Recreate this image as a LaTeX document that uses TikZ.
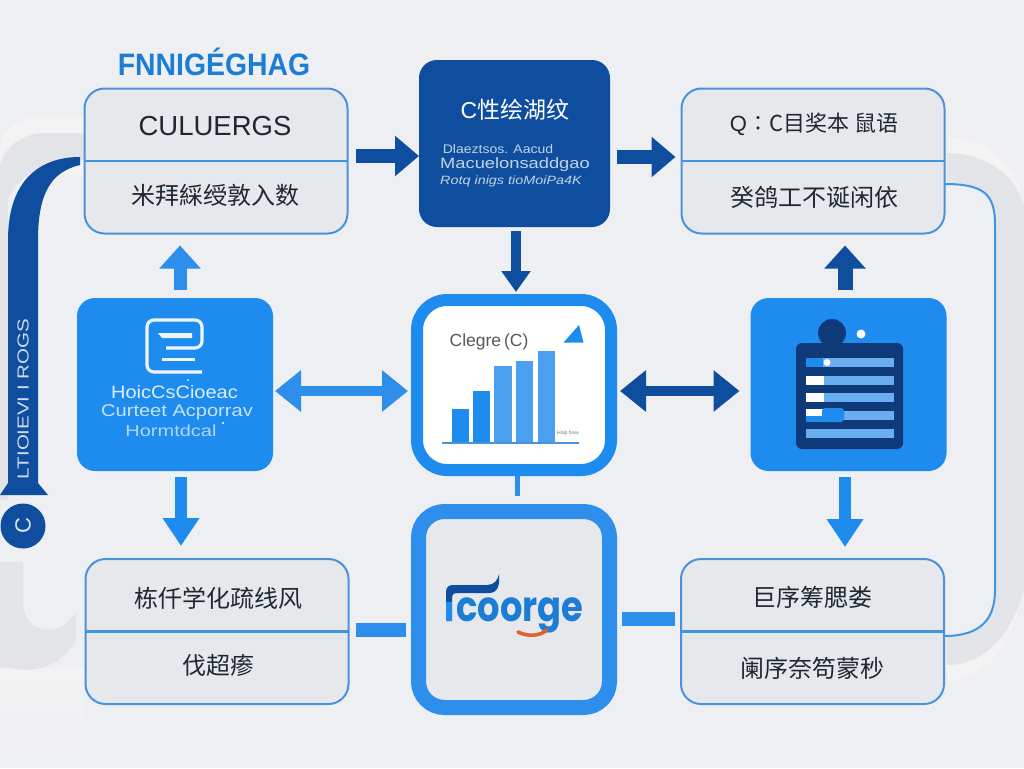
\documentclass[tikz,border=0pt]{standalone}
\usepackage{fontspec}
\setmainfont{Liberation Sans}
\newfontfamily\cjk{Noto Sans CJK SC}
\newfontfamily\logofont{Poppins}
\usetikzlibrary{arrows.meta,calc}
\definecolor{bgc}{HTML}{EEEFF2}
\definecolor{bandc}{HTML}{E3E4E8}
\definecolor{haloc}{HTML}{F3F3F4}
\definecolor{boxc}{HTML}{E7E8EB}
\definecolor{linec}{HTML}{4A93DC}
\definecolor{dividerc}{HTML}{3D97E6}
\definecolor{darkc}{HTML}{0F4E9F}
\definecolor{bluec}{HTML}{1E8BEE}
\definecolor{midc}{HTML}{2D8EEC}
\definecolor{barlight}{HTML}{4A9FEF}
\definecolor{navyc}{HTML}{0E3A7A}
\definecolor{rowc}{HTML}{69AEEE}
\definecolor{inkc}{HTML}{1E2833}
\definecolor{orangec}{HTML}{E0602A}
\newcommand{\fsz}[1]{\fontsize{#1}{#1}\selectfont}
\tikzset{
  x=1pt,y=-1pt,
  every node/.style={inner sep=0pt,outer sep=0pt},
  splitbox/.style={draw=linec,line width=2pt,fill=boxc,rounded corners=20pt,minimum width=263pt,minimum height=145pt},
  dividerline/.style={draw=dividerc,line width=2.6pt},
  solidbox/.style={rounded corners=18pt,minimum width=196pt,minimum height=173pt},
  inktext/.style={text=inkc},
  blockdark/.style={draw=darkc,line width=14pt,-{Triangle[length=24pt,width=39pt,color=darkc]}},
  blockup/.style={draw=#1,line width=13pt,-{Triangle[length=23pt,width=40pt,color=#1]}},
  blockdown/.style={draw=#1,line width=12pt,-{Triangle[length=28pt,width=35pt,color=#1]}},
  blockboth/.style={draw=#1,line width=10pt,{Triangle[length=26pt,width=40pt,color=#1]}-{Triangle[length=26pt,width=40pt,color=#1]}},
  stubline/.style={draw=midc,line width=14pt},
}
\begin{document}
\begin{tikzpicture}
\useasboundingbox (0,0) rectangle (1024,768);
\fill[bgc] (0,0) rectangle (1024,768);
% lighter lower area and soft bands
\shade[top color=haloc,bottom color=bgc] (0,668) rectangle (84,745);
\fill[haloc] (947,137) .. controls (990,137) and (1024,170) .. (1024,215) -- (1024,590) .. controls (1010,650) and (985,680) .. (947,680) -- cycle;
\fill[bgc] (947,184) -- (995,184) -- (995,636) -- (947,636) -- cycle;
\fill[haloc] (84,117) -- (40,117) .. controls (20,117) and (0,130) .. (0,150) -- (0,175) -- (84,175) -- cycle;
% grey bands
\fill[bandc] (84,133) -- (45,133) .. controls (25,133) and (5,145) .. (0,165) -- (0,500) -- (8,500) -- (8,200) .. controls (20,170) and (50,160) .. (84,160) -- cycle;
\fill[bandc] (947,153) .. controls (985,153) and (1015,175) .. (1024,205) -- (1024,590) .. controls (1010,640) and (980,665) .. (947,665) -- (947,636) .. controls (975,636) and (995,620) .. (995,590) -- (995,225) .. controls (995,195) and (985,184) .. (947,184) -- cycle;
\fill[bandc] (0,562) -- (23,562) -- (23,600) .. controls (23,620) and (35,630) .. (48,630) .. controls (60,630) and (70,622) .. (76,612) -- (76,640) .. controls (65,660) and (45,670) .. (25,670) -- (0,667) -- cycle;

% nodes
\node[splitbox] (tl) at (216,161) {};
\node[splitbox] (tr) at (813,161) {};
\node[splitbox] (bl) at (217,631.5) {};
\node[splitbox] (br) at (812.5,631.5) {};
\draw[dividerline] (tl.west) -- (tl.east);
\draw[dividerline] (tr.west) -- (tr.east);
\draw[dividerline] (bl.west) -- (bl.east);
\draw[dividerline] (br.west) -- (br.east);

\node[solidbox,fill=darkc,minimum width=191pt,minimum height=167pt] (dark) at (514.5,143.5) {};
\node[solidbox,fill=bluec] (lb) at (175,384.5) {};
\node[solidbox,fill=bluec] (rb) at (848.5,384.5) {};
\node[draw=bluec,line width=12pt,fill=white,rounded corners=30pt,minimum width=194pt,minimum height=170pt] (chart) at (514,385) {};
\node[draw=midc,line width=15pt,fill=boxc,rounded corners=26pt,minimum width=191pt,minimum height=196pt] (logo) at (514,609.5) {};

% connectors
\draw[blockdark] ([shift={(8,-5)}]tl.east) -- ([shift={(0,12.5)}]dark.west);
\draw[blockdark] ([shift={(7,13.5)}]dark.east) -- ([shift={(-6,-4)}]tr.west);
\draw[draw=darkc,line width=10pt,-{Triangle[length=21pt,width=28pt,color=darkc]}] ([shift={(1.5,4)}]dark.south) -- ([shift={(2,-8)}]chart.north);
\draw[blockup=midc] ([shift={(5,-8)}]lb.north) -- ([shift={(-36,12)}]tl.south);
\draw[blockup=darkc,line width=15pt] ([shift={(-3.5,-8)}]rb.north) -- ([shift={(32,12)}]tr.south);
\draw[blockdown=bluec] ([shift={(6,6)}]lb.south) -- ([shift={(-36,-13)}]bl.north);
\draw[blockdown=bluec] ([shift={(-3.5,6)}]rb.south) -- ([shift={(32.5,-12)}]br.north);
\draw[blockboth=midc] ([shift={(2,6.5)}]lb.east) -- ([shift={(-9,6)}]chart.west);
\draw[blockboth=darkc] ([shift={(9,6)}]chart.east) -- ([shift={(-11,6.5)}]rb.west);
\draw[draw=midc,line width=5pt] ([shift={(3,6)}]chart.south) -- ([shift={(3,-16)}]logo.north);
\draw[stubline] ([shift={(7,-1.5)}]bl.east) -- ([shift={(-13,20.5)}]logo.west);
\draw[stubline] ([shift={(12,9.5)}]logo.east) -- ([shift={(-6,-12.5)}]br.west);
\draw[draw=dividerc,line width=2pt] ([yshift=-23pt]tr.east) .. controls (985,184) and (995,195) .. (995,225) -- (995,590) .. controls (995,620) and (980,636) .. ([yshift=-4.5pt]br.east);

% left vertical dark band
\fill[darkc] (80,157) .. controls (40,157) and (8,180) .. (8,240) -- (8,483) -- (0,495) -- (48,495) -- (38,483) -- (38,240) .. controls (38,195) and (50,172) .. (80,165) -- cycle;
\node[rotate=90,text=white!80!darkc] (bandlabel) at (23,399) {\fsz{16}\scalebox{1.28}[1]{LTIOIEVI I ROGS}};
\node[circle,fill=darkc,minimum size=45pt] (dot) at (23,526) {};
\node[text=white!85!darkc] (dotlabel) at (dot.center) {\fsz{22}\rotatebox{90}{C}};

% title
\node[text=bluec!90!black] (title) at (214,62) {\fsz{31}\scalebox{0.915}[1]{\bfseries FNNIGÉGHAG}};

% split box texts
\node[inktext] (tla) at (215,126) {\fsz{27.5}CULUERGS};
\node[inktext] (tlb) at (215,195) {\fsz{24}\cjk 米拜綵绶敦入数};
\node[inktext] (tra) at (814,124.5) {\fsz{22}Q\cjk ∶C目奖本 鼠语};
\node[inktext] (trb) at (814,197) {\fsz{24}\cjk 癸鸽工不诞闲依};
\node[inktext] (bla) at (218,598) {\fsz{24}\cjk 栋仟学化疏线风};
\node[inktext] (blb) at (218,665) {\fsz{24}\cjk 伐超瘆};
\node[inktext] (bra) at (812,597) {\fsz{24}\cjk 巨序筹腮娄};
\node[inktext] (brb) at (812,668) {\fsz{24}\cjk 阑序奈笱蒙秒};

% dark box texts
\node[text=white] (dka) at (515,110) {\fsz{23}C\cjk 性绘湖纹};
\node[text=white!75!darkc] (dkb) at (498,149) {\fsz{12.5}\scalebox{1.12}[1]{Dlaeztsos. Aacud}};
\node[text=white!75!darkc] (dkc) at (515,165) {\fsz{15}\scalebox{1.22}[1]{Macuelonsaddgao}};
\node[text=white!75!darkc] (dkd) at (511,181) {\fsz{12}\scalebox{1.2}[1]{\itshape Rotq inigs tioMoiPa4K}};

% left blue box
\draw[white!92!bluec,line width=3.2pt,rounded corners=7pt] (166,348) -- (202,348) -- (202,320) -- (147,320) -- (147,372) -- (202,372);
\fill[white!92!bluec] (158,333) -- (192,333) -- (192,338) -- (162,338) -- cycle;
\draw[white!92!bluec,line width=3pt] (162,359) -- (195,359);
\node[text=white!85!bluec] (lba) at (174.5,392) {\fsz{18}\scalebox{1.11}[1]{HoicCsCioeac}};
\node[text=white!75!bluec] (lbb) at (177,412.5) {\fsz{17}\scalebox{1.18}[1]{Curteet Acporrav}};
\node[text=white!65!bluec] (lbc) at (171,431) {\fsz{16}\scalebox{1.25}[1]{Hormtdcal}};
\fill[white] (223,423) circle (1.2pt);
\fill[white] (188,380) circle (1pt);

% chart
\node[text=black!65] (cht) at (489,342) {\fsz{17.5}Clegre\,(C)};
\fill[bluec] (452,409) rectangle (469,442);
\fill[bluec] (473,391) rectangle (490,442);
\fill[barlight] (494,366) rectangle (512,442);
\fill[barlight] (516,361) rectangle (533,442);
\fill[barlight] (538,351) rectangle (555,442);
\draw[linec,line width=2pt] (442,442.5) -- (579,442.5);
\fill[bluec] (563.5,342.5) -- (583.5,342.5) -- (579,325) -- cycle;
\node[text=black!55] (chs) at (568,433) {\fsz{5}Hoip hisw};

% right icon
\fill[navyc] (832,333) circle (14pt);
\fill[white] (861,334) circle (4.5pt);
\fill[navyc,rounded corners=6pt] (796,343) rectangle (903,449);
\foreach \t/\b in {358/367,376/384.5,393/402,411/420,429/438} \fill[rowc] (806,\t) rectangle (894,\b);
\fill[bluec] (806,358) rectangle (823,367);
\fill[white] (827,362.5) circle (3.5pt);
\fill[white] (806,376) rectangle (823.5,384.5);
\fill[white] (806,393) rectangle (823.5,402);
\fill[white] (806,409) rectangle (823,417);
\fill[bluec,rounded corners=3pt] (822,408) rectangle (844,422);
\fill[bluec] (806,416) rectangle (835,422);

% logo
\node[text=bluec!90!black] (logotext) at (520,615) {\fsz{42}\scalebox{0.84}[1]{\logofont\bfseries coorge}};
\fill[darkc] (446,621) -- (446,592) .. controls (446,587) and (449,585) .. (453,585) -- (487,585) .. controls (494,585) and (498,580) .. (499,574) .. controls (500,585) and (498,593) .. (489,593) -- (456,593) .. controls (453,593) and (452,595) .. (452,598) -- (452,621) -- cycle;
\fill[bluec] (446,602) rectangle (452,621);
\draw[draw=orangec,line width=3.6pt,line cap=round] (518,632) .. controls (528,637) and (540,636) .. (547,630);
\end{tikzpicture}
\end{document}
